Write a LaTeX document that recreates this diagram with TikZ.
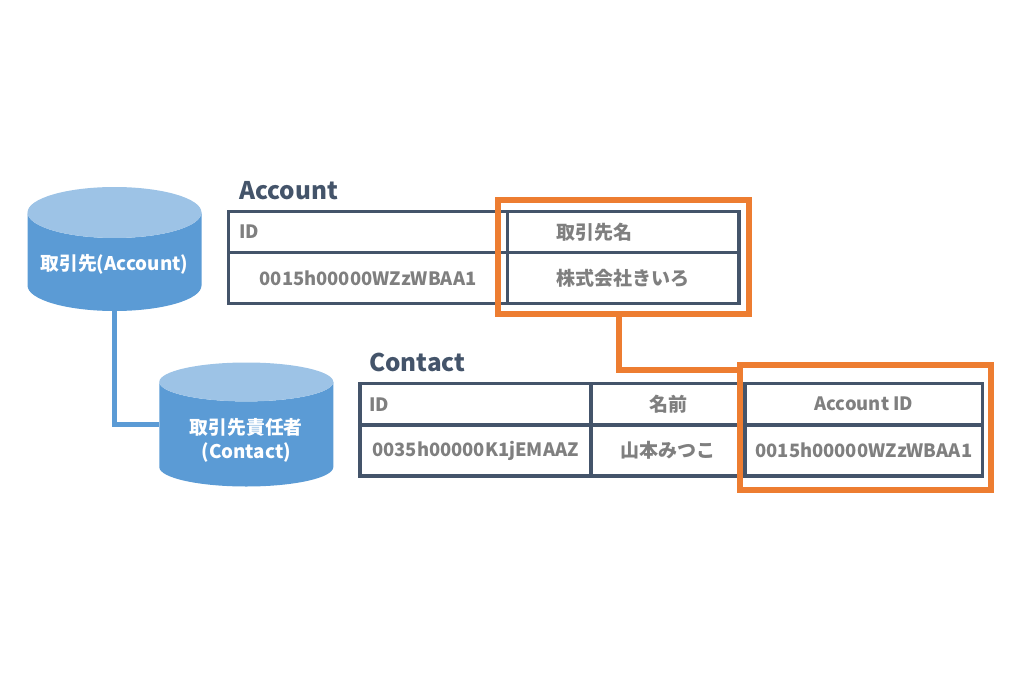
\documentclass[tikz,border=0pt]{standalone}
\usepackage{fontspec}
\setmainfont{Noto Sans CJK JP}
\usetikzlibrary{shapes.geometric}
\definecolor{dbblue}{HTML}{5B9BD5}
\definecolor{dbtop}{HTML}{9DC3E6}
\definecolor{keyorange}{HTML}{ED7D31}
\definecolor{gridnavy}{HTML}{44546A}
\definecolor{cellgray}{HTML}{7F7F7F}
\begin{document}
\begin{tikzpicture}[
	x=1pt,y=-1pt,
	db/.style={cylinder,shape border rotate=90,aspect=0.345,draw=none,anchor=shape center,
		cylinder uses custom fill,cylinder body fill=dbblue,cylinder end fill=dbtop,
		minimum width=174,minimum height=124,inner sep=0,outer sep=0,
		text=white,align=center,font=\fontsize{18.8}{24}\selectfont\bfseries},
	cell/.style={draw=gridnavy,line width=3.3,inner sep=0,outer sep=0,text=cellgray,
		align=center,font=\fontsize{18.4}{20}\selectfont\bfseries},
	cjk/.style={font=\fontsize{19}{20}\selectfont\bfseries},
	cellleft/.style 2 args={cell,align=left,minimum width=#1,text width=#1-2*#2,inner xsep=#2},
	title/.style={anchor=west,inner sep=0,text=gridnavy,font=\fontsize{24.3}{26}\selectfont\bfseries},
	keybox/.style={draw=keyorange,line width=6,inner sep=0,outer sep=0},
	]
\useasboundingbox (0,0) rectangle (1024,682);

% databases
\node[db] (acct) at (114.5,249) {\rule{0pt}{22pt}取引先(Account)};
\node[db] (cont) at (246.3,424.5) {\rule{0pt}{29pt}取引先責任者\\(Contact)};
\draw[dbblue,line width=5.5] (acct.south) |- (cont.west |- cont.shape center);

% Account table
\node[title] (accttitle) at (239,191) {Account};
\node[cellleft={279}{10.5},minimum height=41] (a11) at (368,232) {ID};
\node[cellleft={231.5}{48.5},minimum height=41,cjk] (a12) at (623.25,232) {取引先名};
\node[cell,minimum width=279,minimum height=51.5] (a21) at (368,278) {0015h00000WZzWBAA1};
\node[cell,minimum width=231.5,minimum height=51.5,cjk] (a22) at (623.25,278) {株式会社きいろ};

% Contact table
\node[title] (conttitle) at (369,362.5) {Contact};
\node[cellleft={231}{9},minimum height=41.5] (c11) at (475.5,404.25) {ID};
\node[cell,minimum width=154,minimum height=41.5,cjk] (c12) at (668,404.25) {名前};
\node[cell,minimum width=237.7,minimum height=41.5] (c13) at (863.85,404.25) {Account ID};
\node[cell,minimum width=231,minimum height=51] (c21) at (475.5,450.5) {0035h00000K1jEMAAZ};
\node[cell,minimum width=154,minimum height=51,cjk] (c22) at (668,450.5) {山本みつこ};
\node[cell,minimum width=237.7,minimum height=51] (c23) at (863.85,450.5) {0015h00000WZzWBAA1};

% orange key boxes
\node[keybox,minimum width=251,minimum height=114.5] (acctkey) at (623.5,256.75) {};
\node[keybox,minimum width=251.5,minimum height=125] (contkey) at (865.25,427) {};
\coordinate (keybend) at (619,369.5);
\draw[keyorange,line width=6] (acctkey.south -| keybend) -- (keybend) -- (keybend -| contkey.west);
\end{tikzpicture}
\end{document}
